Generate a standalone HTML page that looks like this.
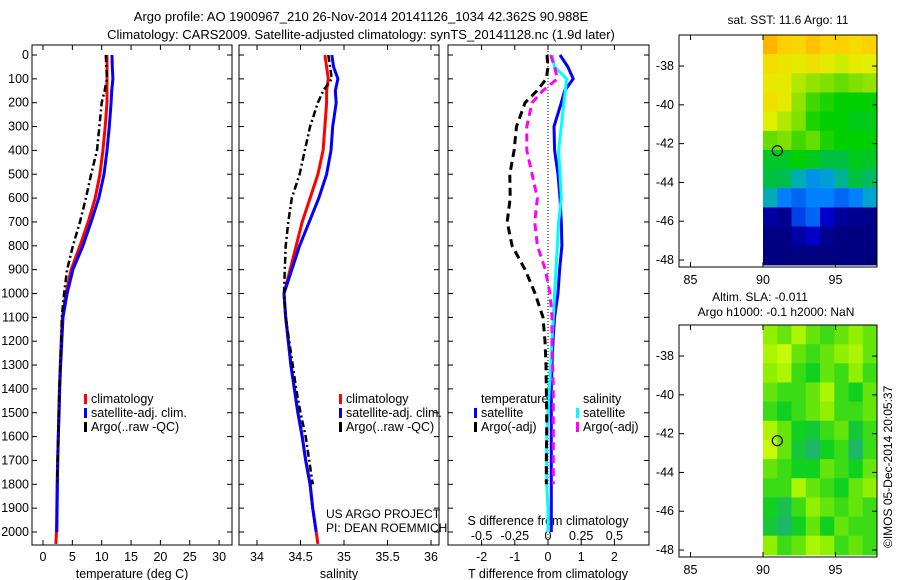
<!DOCTYPE html>
<html><head><meta charset="utf-8">
<style>
body{margin:0;background:#fff;}
svg{display:block;font-family:"Liberation Sans",sans-serif;}
text{fill:#000;}
</style></head>
<body>
<svg id="fig" width="900" height="580" viewBox="0 0 900 580" xmlns="http://www.w3.org/2000/svg">
<rect width="900" height="580" fill="#fff"/>
<text x="361" y="21" font-size="13" text-anchor="middle">Argo profile: AO 1900967_210 26-Nov-2014 20141126_1034 42.362S 90.988E</text>
<text x="361" y="39" font-size="13" text-anchor="middle">Climatology: CARS2009. Satellite-adjusted climatology: synTS_20141128.nc (1.9d later)</text>
<g id="g1"></g>
<g id="g2"></g>
<g id="g3"></g>
<g id="m1"></g>
<g id="m2"></g>
<text x="788" y="24" font-size="12" text-anchor="middle">sat. SST: 11.6 Argo: 11</text>
<text x="760" y="301" font-size="12" text-anchor="middle">Altim. SLA: -0.011</text>
<text x="776" y="316" font-size="12" text-anchor="middle">Argo h1000: -0.1 h2000: NaN</text>
<text transform="translate(892,548) rotate(-90)" font-size="12">©IMOS 05-Dec-2014 20:05:37</text>
<text x="326" y="518" font-size="12">US ARGO PROJECT</text>
<text x="326" y="532" font-size="12">PI: DEAN ROEMMICH</text>
</svg>
<script>
// ---- data ----
const depths = [0,50,100,150,200,300,400,500,600,700,800,900,1000,1100,1200,1300,1400,1500,1600,1700,1800,1900,2000,2050];
const tempClim = [10.9,10.9,10.9,10.9,10.9,10.6,10.2,9.7,8.9,7.7,6.3,4.8,3.9,3.3,3.1,2.95,2.8,2.7,2.6,2.5,2.4,2.35,2.3,2.2];
const tempSat = [11.75,11.8,11.9,11.7,11.6,11.3,10.9,10.4,9.5,8.2,6.8,5.1,4.1,3.4,3.2,3.0,2.85,2.75,2.6,2.5,2.45,2.4,2.35,null];
const tempArgo = [10.7,10.8,10.9,10.5,10.0,9.6,9.2,8.2,7.3,6.3,5.1,4.1,3.6,3.2,3.1,2.95,2.8,2.7,2.6,2.5,2.4,null,null,null];
const salClim = [34.78,34.80,34.82,34.80,34.80,34.78,34.76,34.70,34.61,34.52,34.45,34.38,34.31,34.33,34.36,34.39,34.43,34.47,34.52,34.56,34.61,34.64,34.68,34.70];
const salSat = [34.86,34.88,34.93,34.90,34.91,34.87,34.85,34.80,34.71,34.60,34.49,34.40,34.31,34.33,34.36,34.39,34.43,34.47,34.52,34.56,34.61,34.64,34.68,null];
const salArgo = [34.82,34.84,34.86,34.76,34.70,34.61,34.55,34.49,34.40,34.36,34.33,34.32,34.31,34.33,34.37,34.41,34.45,34.50,34.56,34.60,34.64,null,null,null];
const dTSat = [0.36,0.6,0.76,0.5,0.4,0.18,0.2,0.3,0.36,0.4,0.42,0.35,0.3,0.2,0.15,0.12,0.1,0.1,0.1,0.1,0.1,0.1,0.1,null];
const dSSat = [0.03,0.05,0.14,0.13,0.12,0.1,0.08,0.09,0.1,0.08,0.07,0.06,0.05,0.04,0.03,0.02,0.01,0,-0.01,-0.01,-0.01,0,0,null];
const dTArgo = [-0.03,0,-0.05,-0.33,-0.69,-0.95,-1.02,-1.15,-1.14,-1.23,-1.08,-0.69,-0.39,-0.15,-0.09,-0.06,-0.05,-0.04,-0.04,-0.05,-0.05,null,null,null];
const dSArgo = [0.02,0.05,0.07,-0.04,-0.12,-0.16,-0.16,-0.12,-0.08,-0.1,-0.08,-0.02,0.015,0.03,0.03,0.035,0.04,0.04,0.04,0.04,0.04,null,null,null];
const depthTicks = [0,100,200,300,400,500,600,700,800,900,1000,1100,1200,1300,1400,1500,1600,1700,1800,1900,2000];
const tempTicks = [0,5,10,15,20,25,30];
const salTicks = [34,34.5,35,35.5,36];
const salTickLabels = ["34","34.5","35","35.5","36"];
const dTTicks = [-2,-1,0,1,2];
const dSTicks = [-0.5,-0.25,0,0.25,0.5];
const dSTickLabels = ["-0.5","-0.25","0","0.25","0.5"];
const latTicks = [-38,-40,-42,-44,-46,-48];
const lonTicks = [85,90,95];
const sstGrid = [
[.84,.8,.78,.82,.79,.8,.77,.8],
[.76,.74,.72,.75,.72,.68,.72,.7],
[.72,.72,.65,.62,.6,.58,.6,.62],
[.75,.72,.62,.55,.52,.5,.5,.5],
[.7,.65,.6,.52,.5,.5,.48,.48],
[.58,.6,.55,.58,.52,.5,.5,.5],
[.47,.47,.5,.48,.45,.45,.48,.47],
[.45,.44,.38,.33,.35,.4,.45,.43],
[.38,.3,.28,.3,.3,.28,.3,.36],
[.15,.12,.25,.28,.2,.14,.12,.12],
[.1,.1,.15,.2,.12,.1,.1,.1],
[.1,.1,.1,.1,.1,.1,.1,.1]];
const slaGrid = [
[.7,.6,.8,.6,.5,.6,.7,.6],
[.8,.9,.6,.5,.6,.7,.8,.6],
[.7,.8,.5,.4,.6,.5,.7,.5],
[.6,.5,.5,.6,.8,.5,.4,.6],
[.5,.4,.5,.6,.7,.5,.5,.6],
[.8,.6,.4,.3,.5,.6,.3,.5],
[.9,.6,.3,.1,.4,.5,.1,.5],
[.6,.5,.4,.4,.6,.5,.4,.6],
[.5,.5,.8,.6,.5,.4,.6,.7],
[.4,.2,.5,.7,.6,.5,.6,.5],
[.3,.1,.4,.6,.4,.6,.5,.5],
[.7,.5,.6,.8,.7,.5,.6,.5]];
const profileLon = 90.988, profileLat = -42.362;

// ---- helpers ----
const NS = "http://www.w3.org/2000/svg";
function mk(tag, attrs, parent){const e=document.createElementNS(NS,tag);for(const k in attrs)e.setAttribute(k,attrs[k]);parent.appendChild(e);return e;}
const yTop=45, yBot=545;
const yD = d => 55 + d*0.2385;
function drawProfile(g, xs, vals, color, w, dash, name){
  let pts=[];
  vals.forEach((v,i)=>{ if(v!==null) pts.push(xs(v).toFixed(1)+","+yD(depths[i]).toFixed(1)); });
  const p = mk("polyline",{points:pts.join(" "),fill:"none",stroke:color,"stroke-width":w,"stroke-dasharray":dash||"none"},g);
  
  
}
function frame(g,x0,x1,name){
  const r=mk("rect",{x:x0,y:yTop,width:x1-x0,height:yBot-yTop,fill:"none",stroke:"#000","stroke-width":1},g);
  
  
  depthTicks.forEach(d=>{
    mk("line",{x1:x0,x2:x0+5,y1:yD(d),y2:yD(d),stroke:"#000"},g);
    mk("line",{x1:x1,x2:x1-5,y1:yD(d),y2:yD(d),stroke:"#000"},g);
  });
}
function xTicks(g,xs,ticks,labels,ly,name,top){
  ticks.forEach((t,i)=>{
    const x=xs(t);
    mk("line",{x1:x,x2:x,y1:yBot,y2:yBot-5,stroke:"#000"},g);
    if(top) mk("line",{x1:x,x2:x,y1:yTop,y2:yTop+5,stroke:"#000"},g);
    if(labels){const tx=mk("text",{x:x,y:ly,"font-size":12.5,"text-anchor":"middle"},g);tx.textContent=labels[i];
    
    }
  });
}
function legend(g,x,y,color,label,name){
  mk("rect",{x:x,y:y-9,width:3,height:10,fill:color},g);
  const t=mk("text",{x:x+7,y:y,"font-size":12.5},g);t.textContent=label;
  
  
}
function text(g,x,y,s,anchor,name){const t=mk("text",{x:x,y:y,"font-size":12.5,"text-anchor":anchor||"start"},g);t.textContent=s;
  
  return t;}

// ---- panel 1 ----
const g1=document.getElementById("g1");
const xT = v => 43 + v*5.87;
frame(g1,32,232,"temperature-axes");
depthTicks.forEach(d=>{const t=text(g1,29,yD(d)+4,String(d),"end","depth-tick-label");t.setAttribute("font-size","12.5");});
xTicks(g1,xT,tempTicks,tempTicks.map(String),561,"temperature-tick-label",true);
text(g1,132,578,"temperature (deg C)","middle","temperature-axis-title");
drawProfile(g1,xT,tempClim,"#ff0000",3,null,"temperature-climatology-line");
drawProfile(g1,xT,tempSat,"#0000ff",3,null,"temperature-satellite-line");
drawProfile(g1,xT,tempArgo,"#000",2.5,"7,3,2,3","temperature-argo-line");
legend(g1,84,403,"#ff0000","climatology","legend-climatology");
legend(g1,84,417,"#0000ff","satellite-adj. clim.","legend-satellite");
legend(g1,84,431,"#000","Argo(..raw -QC)","legend-argo");

// ---- panel 2 ----
const g2=document.getElementById("g2");
const xS = v => 257 + (v-34)*87;
frame(g2,239,439,"salinity-axes");
xTicks(g2,xS,salTicks,salTickLabels,561,"salinity-tick-label",true);
text(g2,339,578,"salinity","middle","salinity-axis-title");
drawProfile(g2,xS,salClim,"#ff0000",3,null,"salinity-climatology-line");
drawProfile(g2,xS,salSat,"#0000ff",3,null,"salinity-satellite-line");
drawProfile(g2,xS,salArgo,"#000",2.5,"7,3,2,3","salinity-argo-line");
legend(g2,339,403,"#ff0000","climatology","legend-climatology");
legend(g2,339,417,"#0000ff","satellite-adj. clim.","legend-satellite");
legend(g2,339,431,"#000","Argo(..raw -QC)","legend-argo");

// ---- panel 3 ----
const g3=document.getElementById("g3");
const xDT = v => 548 + v*33.2;
const xDS = v => 548 + v*132.8;
frame(g3,448,649,"difference-axes");
mk("line",{x1:xDT(0),x2:xDT(0),y1:yTop,y2:yBot,stroke:"#000","stroke-width":1,"stroke-dasharray":"1,2"},g3);
xTicks(g3,xDT,dTTicks,dTTicks.map(String),561,"t-diff-tick-label",true);
dSTicks.forEach((t,i)=>text(g3,xDS(t),540,dSTickLabels[i],"middle","s-diff-tick-label"));
text(g3,548,525,"S difference from climatology","middle","s-diff-axis-title");
text(g3,548,578,"T difference from climatology","middle","t-diff-axis-title");
drawProfile(g3,xDT,dTSat,"#0000ff",3,null,"t-diff-satellite-line");
drawProfile(g3,xDS,dSSat,"#00ffff",3,null,"s-diff-satellite-line");
drawProfile(g3,xDT,dTArgo,"#000",3,"8,5","t-diff-argo-line");
drawProfile(g3,xDS,dSArgo,"#ff00ff",3,"8,5","s-diff-argo-line");
text(g3,481,403,"temperature","start","legend-temperature-heading");
legend(g3,474,417,"#0000ff","satellite","legend-t-satellite");
legend(g3,474,431,"#000","Argo(-adj)","legend-t-argo");
text(g3,583,403,"salinity","start","legend-salinity-heading");
legend(g3,576,417,"#00ffff","satellite","legend-s-satellite");
legend(g3,576,431,"#ff00ff","Argo(-adj)","legend-s-argo");

// ---- maps ----
function lerpC(stops,v){
  for(let i=0;i<stops.length-1;i++){const a=stops[i],b=stops[i+1];
    if(v<=b[0]){const f=Math.max(0,(v-a[0])/(b[0]-a[0]));
      return "rgb("+[1,2,3].map(k=>Math.round(a[k]+(b[k]-a[k])*f)).join(",")+")";}}
  const l=stops[stops.length-1];return "rgb("+l[1]+","+l[2]+","+l[3]+")";
}
const sstStops=[[0.1,0,0,128],[0.2,0,0,200],[0.3,0,128,255],[0.37,0,170,200],[0.45,0,192,64],[0.5,0,208,0],[0.6,128,224,0],[0.7,224,240,0],[0.8,255,208,0],[0.9,255,140,0]];
const slaStops=[[0,32,176,128],[0.4,16,208,32],[0.7,144,240,0],[1,224,255,16]];
function drawMap(gid,top,grid,stops,name){
  const g=document.getElementById(gid);
  const left=679,right=877,bottom=top+232;
  const lonX = lon => 763 + (lon-90)*14.5;
  const latY = lat => top + (-36.4-lat)*19.4;
  const rows=grid.length, cols=grid[0].length;
  const ch=(latY(-48.25)-top)/rows, cw=(right-lonX(90))/cols;
  grid.forEach((row,r)=>row.forEach((v,c)=>{
    const cell=mk("rect",{x:(lonX(90)+c*cw).toFixed(2),y:(top+r*ch).toFixed(2),width:(cw+0.5).toFixed(2),height:(ch+0.5).toFixed(2),fill:lerpC(stops,v)},g);
    
    
  }));
  const fr=mk("rect",{x:left,y:top,width:right-left,height:bottom-top,fill:"none",stroke:"#000"},g);
  
  
  latTicks.forEach(l=>{const y=latY(l);
    mk("line",{x1:left,x2:left+5,y1:y,y2:y,stroke:"#000"},g);
    mk("line",{x1:right,x2:right-5,y1:y,y2:y,stroke:"#000"},g);
    text(g,674,y+4,String(l),"end","lat-tick-label");});
  lonTicks.forEach(l=>{const x=lonX(l);
    mk("line",{x1:x,x2:x,y1:bottom,y2:bottom-5,stroke:"#000"},g);
    mk("line",{x1:x,x2:x,y1:top,y2:top+5,stroke:"#000"},g);
    text(g,x,bottom+17,String(l),"middle","lon-tick-label");});
  const c=mk("circle",{cx:lonX(profileLon),cy:latY(profileLat),r:5,fill:"none",stroke:"#000","stroke-width":1.2},g);
  
  
}
drawMap("m1",35,sstGrid,sstStops,"sst-map");
drawMap("m2",325,slaGrid,slaStops,"sla-map");
</script>
</body></html>
